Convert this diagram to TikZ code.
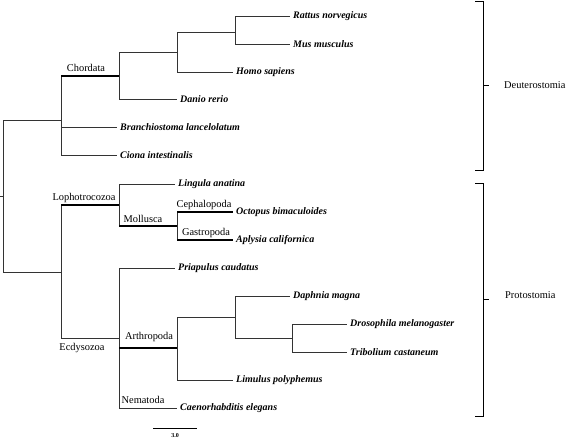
\documentclass[tikz,border=0pt]{standalone}
\usepackage{fontspec}
\setmainfont{Liberation Serif}
\usepackage{tikz}

\begin{document}
\begin{tikzpicture}[x=1pt, y=-1pt,
        branch/.style={line width=0.8pt, black!80},
        cladebranch/.style={line width=1.2pt, black},
        taxon/.style={anchor=west, inner sep=3pt, font=\fontsize{10}{12}\selectfont\bfseries\itshape},
        clade/.style={inner sep=0pt, font=\fontsize{10.4}{12}\selectfont},
        group/.style={anchor=west, inner sep=0pt, font=\fontsize{10.4}{12}\selectfont},
        bracket/.style={line width=0.9pt, black}]
        \useasboundingbox (0,0) rectangle (567,439);

        % Branch points
        \coordinate (stub) at (0,196);
        \coordinate (root) at (3.5,196);
        \coordinate (chord) at (61,120);
        \coordinate (vert) at (119,76);
        \coordinate (mam) at (177,52);
        \coordinate (rod) at (235,32);
        \coordinate (low) at (61,272);
        \coordinate (lopho) at (119,205);
        \coordinate (moll) at (177,226);
        \coordinate (ecdy) at (119,338);
        \coordinate (arth) at (177,348);
        \coordinate (crus) at (235,317);
        \coordinate (ins) at (292,338);

        % Species
        \node[taxon] (rat) at (290,16) {Rattus norvegicus};
        \node[taxon] (mus) at (290,44) {Mus musculus};
        \node[taxon] (homo) at (233,72) {Homo sapiens};
        \node[taxon] (dan) at (177,99) {Danio rerio};
        \node[taxon] (bran) at (117,127) {Branchiostoma lancelolatum};
        \node[taxon] (cion) at (117,155) {Ciona intestinalis};
        \node[taxon] (ling) at (175,184) {Lingula anatina};
        \node[taxon] (octo) at (233,212) {Octopus bimaculoides};
        \node[taxon] (aply) at (233,240) {Aplysia californica};
        \node[taxon] (pria) at (175,268) {Priapulus caudatus};
        \node[taxon] (daph) at (290,296) {Daphnia magna};
        \node[taxon] (dros) at (347,324) {Drosophila melanogaster};
        \node[taxon] (trib) at (347,352) {Tribolium castaneum};
        \node[taxon] (limu) at (233,380) {Limulus polyphemus};
        \node[taxon] (caen) at (177,408) {Caenorhabditis elegans};

        % Tree
        \draw[branch] (stub) -- (root);
        \draw[branch] (root) |- (chord);
        \draw[branch] (root) |- (low);
        \draw[branch] (chord) |- (vert);
        \draw[branch] (chord) |- (bran.west);
        \draw[branch] (chord) |- (cion.west);
        \draw[branch] (vert) |- (mam);
        \draw[branch] (vert) |- (dan.west);
        \draw[branch] (mam) |- (rod);
        \draw[branch] (mam) |- (homo.west);
        \draw[branch] (rod) |- (rat.west);
        \draw[branch] (rod) |- (mus.west);
        \draw[branch] (low) |- (lopho);
        \draw[branch] (low) |- (ecdy);
        \draw[branch] (lopho) |- (ling.west);
        \draw[branch] (lopho) |- (moll);
        \draw[branch] (moll) |- (octo.west);
        \draw[branch] (moll) |- (aply.west);
        \draw[branch] (ecdy) |- (pria.west);
        \draw[branch] (ecdy) |- (arth);
        \draw[branch] (ecdy) |- (caen.west);
        \draw[branch] (arth) |- (crus);
        \draw[branch] (arth) |- (limu.west);
        \draw[branch] (crus) |- (daph.west);
        \draw[branch] (crus) |- (ins);
        \draw[branch] (ins) |- (dros.west);
        \draw[branch] (ins) |- (trib.west);

        % Named clades
        \draw[cladebranch] (chord |- vert) -- (vert);
        \draw[cladebranch] (low |- lopho) -- (lopho);
        \draw[cladebranch] (lopho |- moll) -- (moll);
        \draw[cladebranch] (moll |- octo) -- (octo.west);
        \draw[cladebranch] (moll |- aply) -- (aply.west);
        \draw[cladebranch] (ecdy |- arth) -- (arth);
        \node[clade] (chordlab) at (86,68) {Chordata};
        \node[clade] (lopholab) at (84,198) {Lophotrocozoa};
        \node[clade] (molllab) at (143,219) {Mollusca};
        \node[clade] (cephlab) at (204,205) {Cephalopoda};
        \node[clade] (gastlab) at (206,233) {Gastropoda};
        \node[clade] (ecdylab) at (82,348) {Ecdysozoa};
        \node[clade] (arthlab) at (149,337) {Arthropoda};
        \node[clade] (nemalab) at (143,400) {Nematoda};

        % Brackets on the right
        \coordinate (dtop) at (475,1);
        \coordinate (dbot) at (475,170);
        \coordinate (dmid) at (483,85.5);
        \draw[bracket] (dtop) -- ++(8,0) |- (dbot);
        \draw[bracket] (dmid) -- ++(6,0);
        \node[group] (deut) at (504,85.5) {Deuterostomia};

        \coordinate (ptop) at (475,183);
        \coordinate (pbot) at (475,416);
        \coordinate (pmid) at (483,299.5);
        \draw[bracket] (ptop) -- ++(8,0) |- (pbot);
        \draw[bracket] (pmid) -- ++(6,0);
        \node[group] (prot) at (505,295) {Protostomia};

        % Scale bar
        \coordinate (sbl) at (153,428);
        \coordinate (sbr) at (197,428);
        \draw[line width=1pt] (sbl) -- (sbr);
        \node[font=\fontsize{6}{7}\selectfont\bfseries, inner sep=0pt] (sblab) at (175,436) {3.0};
\end{tikzpicture}
\end{document}
